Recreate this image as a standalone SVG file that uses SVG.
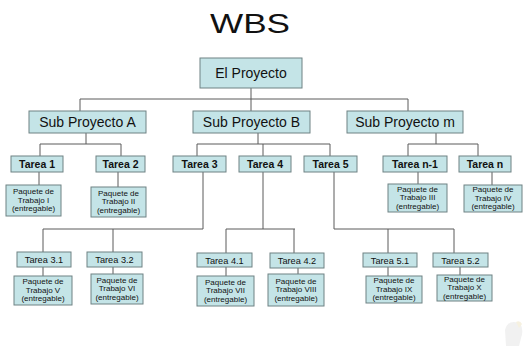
<svg xmlns="http://www.w3.org/2000/svg" width="528" height="346" viewBox="0 0 528 346">
<style>
.b{fill:#c4e4e7;stroke:#6f8283;stroke-width:1}
.t{font-family:"Liberation Sans",Arial,sans-serif;fill:#111;text-anchor:middle}
.s{font-size:14px}
.m{font-size:10.5px;font-weight:bold}
.n{font-size:9.2px}
.p{font-size:8px}
.c{fill:none;stroke:#5a5a5a;stroke-width:1}
</style>
<rect width="528" height="346" fill="#fff"/>
<text class="t" x="250" y="33" font-size="28" textLength="80" lengthAdjust="spacingAndGlyphs" fill="#000">WBS</text>
<g id="connectors" class="c">
<path d="M251 88V99M80 99H408M80 99V111M251 99V111M408 99V111"/>
<path d="M86 133V144M40 144H121M40 144V156M121 144V156"/>
<path d="M258 133V144M197 144H330M197 144V156M263 144V156M330 144V156"/>
<path d="M436 133V144M408 144H478M408 144V156M478 144V156"/>
<path d="M39 172V185M118 172V187M418 172V184M492 172V185"/>
<path d="M203 172V229H43M43 229V252M113 229V252"/>
<path d="M263 172V229M226 229H295M226 229V253M294 229V253"/>
<path d="M334 172V229H454M388 229V253M454 229V253"/>
<path d="M43 267V276M113 267V274M226 267V276M298 268V274M388 267V276M460 267V275"/>
</g>
<g id="n0"><rect class="b" x="200" y="58" width="102" height="30"/><text class="t s" x="251" y="78">El Proyecto</text></g>
<g id="nA"><rect class="b" x="29" y="111" width="117" height="22"/><text class="t s" x="87.5" y="127">Sub Proyecto A</text></g>
<g id="nB"><rect class="b" x="193" y="111" width="117" height="22"/><text class="t s" x="251.5" y="127">Sub Proyecto B</text></g>
<g id="nm"><rect class="b" x="347" y="111" width="116" height="22"/><text class="t s" x="405" y="127">Sub Proyecto m</text></g>
<g id="t1"><rect class="b" x="11" y="156" width="52" height="16"/><text class="t m" x="37" y="168">Tarea 1</text></g>
<g id="t2"><rect class="b" x="96" y="156" width="49" height="16"/><text class="t m" x="120.5" y="168">Tarea 2</text></g>
<g id="t3"><rect class="b" x="173" y="156" width="53" height="16"/><text class="t m" x="199.5" y="168">Tarea 3</text></g>
<g id="t4"><rect class="b" x="239" y="156" width="52" height="16"/><text class="t m" x="265" y="168">Tarea 4</text></g>
<g id="t5"><rect class="b" x="304" y="156" width="53" height="16"/><text class="t m" x="330.5" y="168">Tarea 5</text></g>
<g id="tn1"><rect class="b" x="383" y="156" width="64" height="16"/><text class="t m" x="415" y="168">Tarea n-1</text></g>
<g id="tn"><rect class="b" x="459" y="156" width="52" height="16"/><text class="t m" x="485" y="168">Tarea n</text></g>
<g id="p1"><rect class="b" x="6" y="185" width="55" height="31"/><text class="t p" x="33.5" y="194">Paquete de</text><text class="t p" x="33.5" y="202.5">Trabajo I</text><text class="t p" x="33.5" y="211">(entregable)</text></g>
<g id="p2"><rect class="b" x="91" y="187" width="55" height="30"/><text class="t p" x="118.5" y="195.5">Paquete de</text><text class="t p" x="118.5" y="204">Trabajo II</text><text class="t p" x="118.5" y="212.5">(entregable)</text></g>
<g id="p3"><rect class="b" x="388" y="184" width="59" height="28"/><text class="t p" x="417.5" y="191.5">Paquete de</text><text class="t p" x="417.5" y="200">Trabajo III</text><text class="t p" x="417.5" y="208.5">(entregable)</text></g>
<g id="p4"><rect class="b" x="464" y="185" width="58" height="27"/><text class="t p" x="493" y="192">Paquete de</text><text class="t p" x="493" y="200.5">Trabajo IV</text><text class="t p" x="493" y="209">(entregable)</text></g>
<g id="t31"><rect class="b" x="17" y="252" width="54" height="15"/><text class="t n" x="44" y="263">Tarea 3.1</text></g>
<g id="t32"><rect class="b" x="87" y="252" width="55" height="15"/><text class="t n" x="114.5" y="263">Tarea 3.2</text></g>
<g id="t41"><rect class="b" x="197" y="253" width="55" height="14"/><text class="t n" x="224.5" y="263.5">Tarea 4.1</text></g>
<g id="t42"><rect class="b" x="270" y="253" width="54" height="15"/><text class="t n" x="297" y="264">Tarea 4.2</text></g>
<g id="t51"><rect class="b" x="363" y="253" width="54" height="14"/><text class="t n" x="390" y="263.5">Tarea 5.1</text></g>
<g id="t52"><rect class="b" x="433" y="253" width="55" height="14"/><text class="t n" x="460.5" y="263.5">Tarea 5.2</text></g>
<g id="p5"><rect class="b" x="14" y="276" width="58" height="29"/><text class="t p" x="43" y="284">Paquete de</text><text class="t p" x="43" y="292.5">Trabajo V</text><text class="t p" x="43" y="301">(entregable)</text></g>
<g id="p6"><rect class="b" x="91" y="274" width="52" height="30"/><text class="t p" x="117" y="282.5">Paquete de</text><text class="t p" x="117" y="291">Trabajo VI</text><text class="t p" x="117" y="299.5">(entregable)</text></g>
<g id="p7"><rect class="b" x="197" y="276" width="57" height="30"/><text class="t p" x="225.5" y="284.5">Paquete de</text><text class="t p" x="225.5" y="293">Trabajo VII</text><text class="t p" x="225.5" y="301.5">(entregable)</text></g>
<g id="p8"><rect class="b" x="268" y="274" width="56" height="32"/><text class="t p" x="296" y="283.5">Paquete de</text><text class="t p" x="296" y="292">Trabajo VIII</text><text class="t p" x="296" y="300.5">(entregable)</text></g>
<g id="p9"><rect class="b" x="366" y="276" width="56" height="27"/><text class="t p" x="394" y="283">Paquete de</text><text class="t p" x="394" y="291.5">Trabajo IX</text><text class="t p" x="394" y="300">(entregable)</text></g>
<g id="p10"><rect class="b" x="437" y="275" width="55" height="26"/><text class="t p" x="464.5" y="281.5">Paquete de</text><text class="t p" x="464.5" y="290">Trabajo X</text><text class="t p" x="464.5" y="298.5">(entregable)</text></g>
<g id="logo" opacity="0.35"><path d="M506 346L505 330Q507 322 514 322L520 323Q524 330 521 338L519 346Z" fill="#d8d8d8"/><path d="M516 322q4 -2 6 2l-3 4z" fill="#e8d8a8"/></g>
</svg>
